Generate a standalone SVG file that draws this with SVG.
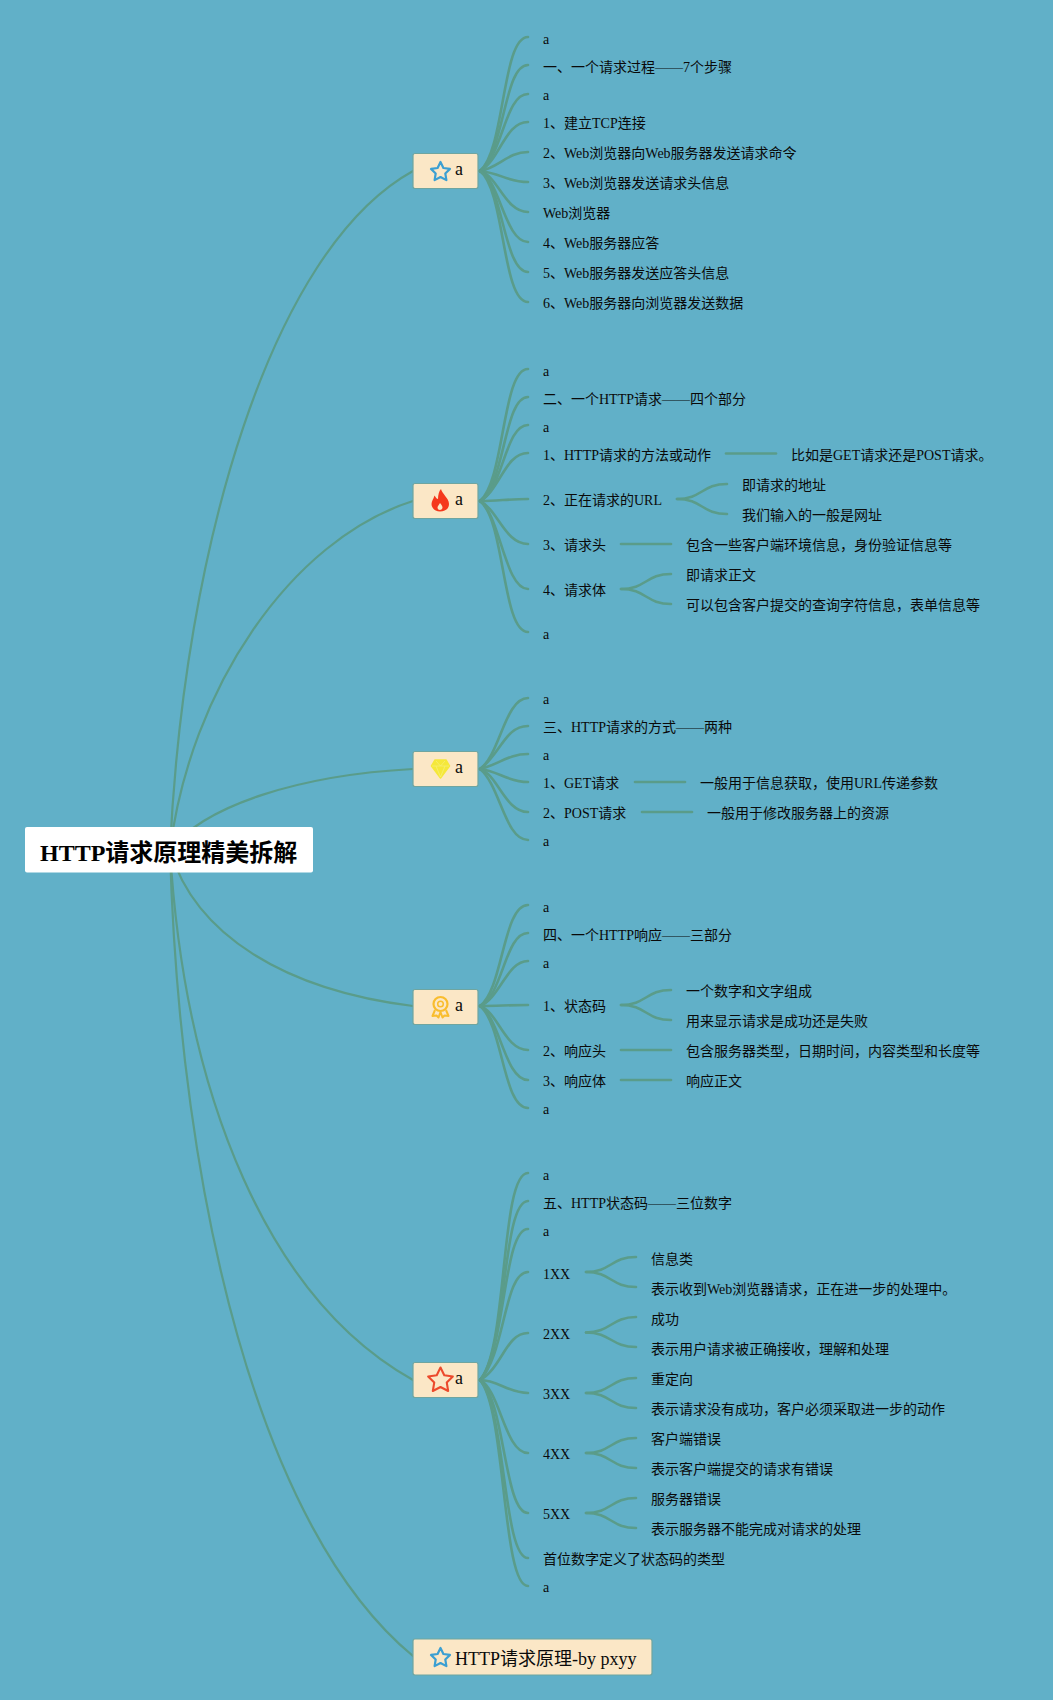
<svg xmlns="http://www.w3.org/2000/svg" width="1053" height="1700" viewBox="0 0 1053 1700">
<style>
text{font-family:"Liberation Serif","Noto Sans CJK SC",serif;font-size:14px;fill:#0a0a0a}
.c path{fill:none;stroke:#5a9c8a;stroke-width:2.600;stroke-linecap:round}
.c .m{stroke-width:2.200}
.b{fill:#fbe7c6;stroke:#6fa5a0;stroke-width:1.200}
.t{font-size:18px}
.root{fill:#fff;stroke:none}
.title{font-size:24px;font-weight:bold;fill:#000}
</style>
<defs>
<polygon id="star" points="0,-10 2.9,-4 9.5,-3.1 4.8,1.5 5.9,8.1 0,5 -5.9,8.1 -4.8,1.5 -9.5,-3.1 -2.9,-4" fill="none" stroke-linejoin="round"/>
</defs>
<rect width="1053" height="1700" fill="#61b0c8"/>
<g id="connectors" class="c">
<path class="m" d="M170,850C184,550 270,250 413,171"/>
<path class="m" d="M170,850C190,690 290,540 413,501"/>
<path class="m" d="M170,850C205,805 300,775 413,769"/>
<path class="m" d="M170,850C195,935 285,990 413,1006"/>
<path class="m" d="M170,850C185,1100 270,1300 413,1380"/>
<path class="m" d="M170,850C180,1200 260,1530 413,1656"/>
<path d="M480,171C505,150 502,37 528,37"/>
<path d="M480,171C505,150 504,65 528,65"/>
<path d="M480,171C503,155 505,94 528,94"/>
<path d="M480,171C500,160 505,122 528,122"/>
<path d="M480,171C498,168 508,152 528,152"/>
<path d="M480,171C500,173 508,182 528,182"/>
<path d="M480,171C498,176 505,212 528,212"/>
<path d="M480,171C500,180 505,242 528,242"/>
<path d="M480,171C503,185 504,272 528,272"/>
<path d="M480,171C505,190 502,302 528,302"/>
<path d="M480,501C505,480 502,369 528,369"/>
<path d="M480,501C505,485 504,397 528,397"/>
<path d="M480,501C503,490 505,425 528,425"/>
<path d="M480,501C500,490 505,453 528,453"/>
<path d="M480,501C498,501 508,499 528,499"/>
<path d="M480,501C498,510 505,544 528,544"/>
<path d="M480,501C500,515 505,589 528,589"/>
<path d="M480,501C505,520 502,632 528,632"/>
<path d="M726,453.500H776"/>
<path d="M677,499C702,499 702,484 727,484"/>
<path d="M677,499C702,499 702,514 727,514"/>
<path d="M621,544H671"/>
<path d="M621,589C646,589 646,574 671,574"/>
<path d="M621,589C646,589 646,604 671,604"/>
<path d="M480,769C500,755 505,698 528,698"/>
<path d="M480,769C500,755 505,726 528,726"/>
<path d="M480,769C498,765 508,754 528,754"/>
<path d="M480,769C498,771 508,782 528,782"/>
<path d="M480,769C498,775 505,812 528,812"/>
<path d="M480,769C500,785 505,840 528,840"/>
<path d="M635,782H685"/>
<path d="M642,812H692"/>
<path d="M480,1006C503,990 503,905 528,905"/>
<path d="M480,1006C503,995 505,933 528,933"/>
<path d="M480,1006C500,998 507,961 528,961"/>
<path d="M480,1006C498,1006 508,1005 528,1005"/>
<path d="M480,1006C498,1012 505,1050 528,1050"/>
<path d="M480,1006C500,1018 505,1080 528,1080"/>
<path d="M480,1006C503,1025 503,1108 528,1108"/>
<path d="M621,1005C646,1005 646,990 671,990"/>
<path d="M621,1005C646,1005 646,1020 671,1020"/>
<path d="M621,1050H671"/>
<path d="M621,1080H671"/>
<path d="M480,1380C508,1350 500,1173 528,1173"/>
<path d="M480,1380C507,1350 502,1201 528,1201"/>
<path d="M480,1380C506,1350 503,1229 528,1229"/>
<path d="M480,1380C505,1355 504,1272 528,1272"/>
<path d="M480,1380C502,1368 506,1333 528,1333"/>
<path d="M480,1380C498,1380 508,1393 528,1393"/>
<path d="M480,1380C500,1390 505,1453 528,1453"/>
<path d="M480,1380C505,1400 504,1513 528,1513"/>
<path d="M480,1380C506,1410 503,1558 528,1558"/>
<path d="M480,1380C506,1410 502,1586 528,1586"/>
<path d="M586,1272C611,1272 611,1257 636,1257"/>
<path d="M586,1272C611,1272 611,1287 636,1287"/>
<path d="M586,1332.500C611,1332.500 611,1317 636,1317"/>
<path d="M586,1332.500C611,1332.500 611,1347 636,1347"/>
<path d="M586,1393C611,1393 611,1378 636,1378"/>
<path d="M586,1393C611,1393 611,1408 636,1408"/>
<path d="M586,1453C611,1453 611,1438 636,1438"/>
<path d="M586,1453C611,1453 611,1468 636,1468"/>
<path d="M586,1513C611,1513 611,1498 636,1498"/>
<path d="M586,1513C611,1513 611,1528 636,1528"/>
</g>
<g id="root"><rect class="root" x="25" y="827" width="288" height="45.500" rx="2"/><text class="title" x="40" y="861">HTTP请求原理精美拆解</text></g>
<g id="n1"><rect class="b" x="413" y="153.500" width="65" height="35" rx="2"/><use href="#star" x="440.500" y="172" stroke="#3b9fd2" stroke-width="2.200"/><text class="t" x="455" y="175">a</text></g>
<g id="n2"><rect class="b" x="413" y="483.500" width="65" height="35" rx="2"/>
<path d="M441,489C442,494 449,498 449,504C449,509 445,511.500 440,511.500C435,511.500 431.500,508 431.500,504C431.500,501 433.500,499 434.500,495.500C436,498 437,499 438,499C438,495 439,491 441,489Z" fill="#f5381c"/><path d="M440,503C441.500,505 442.500,506 442.500,507.500C442.500,509 441,510 440,510C438.500,510 437.500,509 437.500,507.500C437.500,506 439,505 440,503Z" fill="#fbe7c6"/><text class="t" x="455" y="505">a</text></g>
<g id="n3"><rect class="b" x="413" y="751.500" width="65" height="35" rx="2"/>
<path d="M435,760H446L449.500,766L440.500,778L431.500,766Z" fill="#f5e83a" stroke="#f5e83a" stroke-width="1.500" stroke-linejoin="round"/><path d="M432,766H449M436,761L440.500,766L445,761M436,766L440.500,777L445,766" fill="none" stroke="#f7ef7c" stroke-width=".7"/><text class="t" x="455" y="773">a</text></g>
<g id="n4"><rect class="b" x="413" y="989.500" width="65" height="35" rx="2"/>
<circle cx="440.500" cy="1004" r="7" fill="none" stroke="#f9bd2e" stroke-width="2.200"/><circle cx="440.500" cy="1004" r="2.800" fill="none" stroke="#f9bd2e" stroke-width="1.500"/><path d="M435,1010L432.500,1016L436.500,1015.500L438.500,1017.500L440.500,1012L442.500,1017.500L444.500,1015.500L448.500,1016L446,1010" fill="none" stroke="#f9bd2e" stroke-width="2" stroke-linejoin="round"/><text class="t" x="455" y="1011">a</text></g>
<g id="n5"><rect class="b" x="413" y="1362.500" width="65" height="35" rx="2"/><use href="#star" transform="translate(440.500,1380.500) scale(1.300)" stroke="#ec4a2c" stroke-width="1.600"/><text class="t" x="455" y="1384">a</text></g>
<g id="n6"><rect class="b" x="413" y="1639" width="239" height="36" rx="2"/><use href="#star" x="440.500" y="1658" stroke="#3b9fd2" stroke-width="2.200"/><text class="t" x="455" y="1665">HTTP请求原理-by pxyy</text></g>
<g id="leaves1">
<text x="543" y="44">a</text><text x="543" y="72">一、一个请求过程——7个步骤</text><text x="543" y="100">a</text><text x="543" y="128">1、建立TCP连接</text><text x="543" y="158">2、Web浏览器向Web服务器发送请求命令</text><text x="543" y="188">3、Web浏览器发送请求头信息</text><text x="543" y="218">Web浏览器</text><text x="543" y="248">4、Web服务器应答</text><text x="543" y="278">5、Web服务器发送应答头信息</text><text x="543" y="308">6、Web服务器向浏览器发送数据</text>
</g>
<g id="leaves2">
<text x="543" y="376">a</text><text x="543" y="404">二、一个HTTP请求——四个部分</text><text x="543" y="432">a</text><text x="543" y="460">1、HTTP请求的方法或动作</text><text x="791" y="460">比如是GET请求还是POST请求。</text><text x="543" y="505">2、正在请求的URL</text><text x="742" y="490">即请求的地址</text><text x="742" y="520">我们输入的一般是网址</text><text x="543" y="550">3、请求头</text><text x="686" y="550">包含一些客户端环境信息，身份验证信息等</text><text x="543" y="595">4、请求体</text><text x="686" y="580">即请求正文</text><text x="686" y="610">可以包含客户提交的查询字符信息，表单信息等</text><text x="543" y="639">a</text>
</g>
<g id="leaves3">
<text x="543" y="704">a</text><text x="543" y="732">三、HTTP请求的方式——两种</text><text x="543" y="760">a</text><text x="543" y="788">1、GET请求</text><text x="700" y="788">一般用于信息获取，使用URL传递参数</text><text x="543" y="818">2、POST请求</text><text x="707" y="818">一般用于修改服务器上的资源</text><text x="543" y="846">a</text>
</g>
<g id="leaves4">
<text x="543" y="912">a</text><text x="543" y="940">四、一个HTTP响应——三部分</text><text x="543" y="968">a</text><text x="543" y="1011">1、状态码</text><text x="686" y="996">一个数字和文字组成</text><text x="686" y="1026">用来显示请求是成功还是失败</text><text x="543" y="1056">2、响应头</text><text x="686" y="1056">包含服务器类型，日期时间，内容类型和长度等</text><text x="543" y="1086">3、响应体</text><text x="686" y="1086">响应正文</text><text x="543" y="1114">a</text>
</g>
<g id="leaves5">
<text x="543" y="1180">a</text><text x="543" y="1208">五、HTTP状态码——三位数字</text><text x="543" y="1236">a</text><text x="543" y="1279">1XX</text><text x="651" y="1264">信息类</text><text x="651" y="1294">表示收到Web浏览器请求，正在进一步的处理中。</text><text x="543" y="1339">2XX</text><text x="651" y="1324">成功</text><text x="651" y="1354">表示用户请求被正确接收，理解和处理</text><text x="543" y="1399">3XX</text><text x="651" y="1384">重定向</text><text x="651" y="1414">表示请求没有成功，客户必须采取进一步的动作</text><text x="543" y="1459">4XX</text><text x="651" y="1444">客户端错误</text><text x="651" y="1474">表示客户端提交的请求有错误</text><text x="543" y="1519">5XX</text><text x="651" y="1504">服务器错误</text><text x="651" y="1534">表示服务器不能完成对请求的处理</text><text x="543" y="1564">首位数字定义了状态码的类型</text><text x="543" y="1592">a</text>
</g>
</svg>
